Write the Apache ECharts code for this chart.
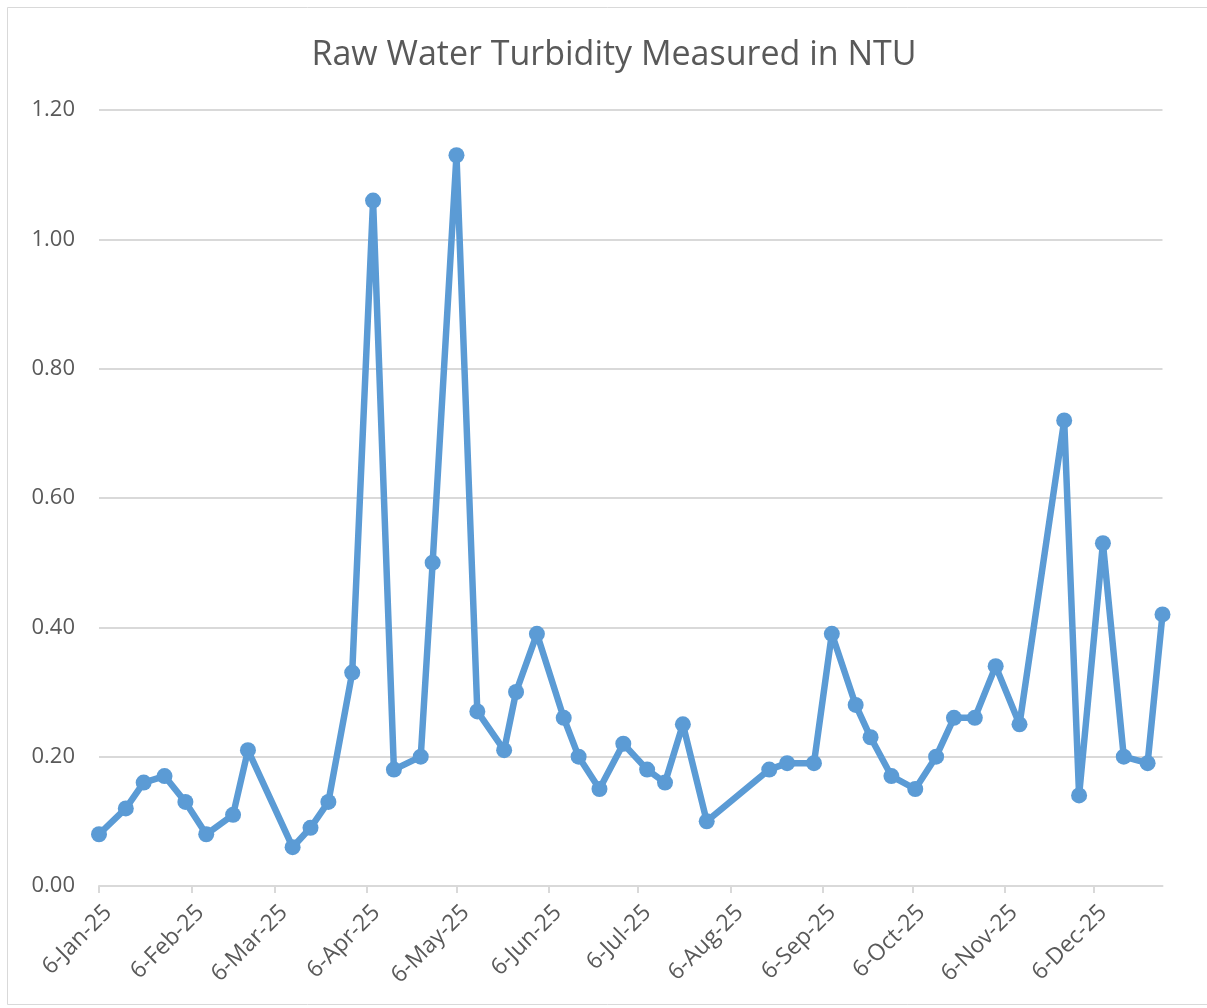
<!DOCTYPE html>
<html>
<head>
<meta charset="utf-8">
<script src="https://cdn.jsdelivr.net/npm/echarts@6/dist/echarts.min.js"></script>
<style>
  html, body { margin: 0; padding: 0; background: #fff; }
  #chart { width: 1207px; height: 1008px; }
</style>
</head>
<body>
<div id="chart"></div>
<script>
const MONTHS = ["Jan", "Feb", "Mar", "Apr", "May", "Jun", "Jul", "Aug", "Sep", "Oct", "Nov", "Dec"];

// sample dates (month, day) in 2025
const sampleDates = [
  [1, 6], [1, 15], [1, 21], [1, 28], [2, 4], [2, 11], [2, 20], [2, 25],
  [3, 12], [3, 18], [3, 24], [4, 1], [4, 8], [4, 15], [4, 24], [4, 28],
  [5, 6], [5, 13], [5, 22], [5, 26], [6, 2], [6, 11], [6, 16], [6, 23],
  [7, 1], [7, 9], [7, 15], [7, 21], [7, 29], [8, 19], [8, 25], [9, 3],
  [9, 9], [9, 17], [9, 22], [9, 29], [10, 7], [10, 14], [10, 20], [10, 27],
  [11, 3], [11, 11], [11, 26], [12, 1], [12, 9], [12, 16], [12, 24], [12, 29],
];

const turbidity = [
  0.08, 0.12, 0.16, 0.17, 0.13, 0.08, 0.11, 0.21,
  0.06, 0.09, 0.13, 0.33, 1.06, 0.18, 0.20, 0.50,
  1.13, 0.27, 0.21, 0.30, 0.39, 0.26, 0.20, 0.15,
  0.22, 0.18, 0.16, 0.25, 0.10, 0.18, 0.19, 0.19,
  0.39, 0.28, 0.23, 0.17, 0.15, 0.20, 0.26, 0.26,
  0.34, 0.25, 0.72, 0.14, 0.53, 0.20, 0.19, 0.42,
];

// x-axis ticks fall on the 6th of every month
const tickMonths = [1, 2, 3, 4, 5, 6, 7, 8, 9, 10, 11, 12];

const DAY = 86400000;
const ts = (m, d) => Date.UTC(2025, m - 1, d);

const seriesData = sampleDates.map(([m, d], i) => [ts(m, d), turbidity[i]]);
const tickValues = tickMonths.map((m) => ts(m, 6));

const fmtDate = (val) => {
  const d = new Date(Math.round(val / DAY) * DAY);
  return `${d.getUTCDate()}-${MONTHS[d.getUTCMonth()]}-25`;
};

const chart = echarts.init(document.getElementById("chart"), null, { renderer: "canvas" });

chart.setOption({
  backgroundColor: "#fff",
  animation: false,
  textStyle: { fontFamily: "Open Sans" },
  title: {
    text: "Raw Water Turbidity Measured in NTU",
    left: 609,
    top: 33,
    textAlign: "center",
    textStyle: { color: "#595959", fontSize: 34, fontWeight: "normal", fontFamily: "Open Sans" },
  },
  graphic: [
    {
      type: "rect",
      silent: true,
      shape: { x: 7.5, y: 7.5, width: 1230, height: 997 },
      style: { fill: null, stroke: "#d9d9d9", lineWidth: 1 },
    },
  ],
  grid: { left: 99, right: 44.5, top: 110, bottom: 122, containLabel: false },
  xAxis: {
    type: "value",
    min: seriesData[0][0],
    max: seriesData[seriesData.length - 1][0],
    axisLine: { lineStyle: { color: "#d9d9d9", width: 2 } },
    axisTick: { show: true, customValues: tickValues, length: 7, lineStyle: { color: "#d9d9d9", width: 2 } },
    axisLabel: {
      customValues: tickValues,
      rotate: 45,
      margin: 14,
      verticalAlign: "top",
      lineHeight: 26,
      color: "#595959",
      fontSize: 23,
      fontFamily: "Open Sans",
      formatter: fmtDate,
    },
    splitLine: { show: false },
  },
  yAxis: {
    type: "value",
    min: 0,
    max: 1.2,
    interval: 0.2,
    axisLine: { show: false },
    axisTick: { show: false },
    axisLabel: {
      color: "#595959",
      fontSize: 22,
      fontFamily: "Open Sans",
      margin: 24,
      formatter: (v) => v.toFixed(2),
    },
    splitLine: { lineStyle: { color: "#d9d9d9", width: 2 } },
  },
  series: [
    {
      name: "Turbidity (NTU)",
      type: "line",
      data: seriesData,
      symbol: "circle",
      symbolSize: 16,
      showAllSymbol: true,
      lineStyle: { color: "#5b9bd5", width: 6.5 },
      itemStyle: { color: "#5b9bd5" },
    },
  ],
});
</script>
</body>
</html>
